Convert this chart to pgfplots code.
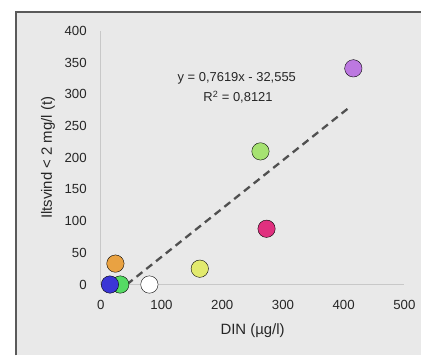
\documentclass[border=0pt]{standalone}
\usepackage{pgfplots}
\pgfplotsset{compat=1.18}
\usepackage{fontspec}
\setmainfont{Liberation Sans}
\definecolor{bgc}{HTML}{E9E9E9}
\definecolor{frame}{HTML}{5A5A5A}
\definecolor{axc}{HTML}{C8C8C8}
\definecolor{edge}{HTML}{404040}
\definecolor{cpurple}{HTML}{BC78E0}
\definecolor{clgreen}{HTML}{A6E272}
\definecolor{cpink}{HTML}{E0307F}
\definecolor{cyellow}{HTML}{E2EA6E}
\definecolor{corange}{HTML}{E9A242}
\definecolor{cgreen}{HTML}{55DB64}
\definecolor{cblue}{HTML}{3B36D6}
\definecolor{trend}{HTML}{505050}
\begin{document}
\begin{tikzpicture}[x=1bp,y=1bp]
\path[fill=white] (0,0) rectangle (422,356);
\fill[bgc] (16,0) rectangle (422,344);
\draw[frame, line width=1.4bp] (16,0) -- (16,344) -- (422,344);
\begin{axis}[
  at={(101bp,71bp)}, anchor=south west,
  scale only axis, width=304bp, height=254bp,
  xmin=0, xmax=500, ymin=0, ymax=400,
  clip=false,
  axis x line=bottom, axis y line=left,
  axis line style={draw=axc, line width=0.8bp, -},
  major tick length=0,
  xtick={0,100,...,500}, ytick={0,50,...,400},
  /pgf/number format/assume math mode=true,
  tick label style={font=\fontsize{13.3}{15}\selectfont, text=black!85},
  yticklabel style={anchor=east, inner sep=0pt, xshift=-14bp},
  xticklabel style={anchor=north, inner sep=0pt, yshift=-16bp},
  xlabel={DIN (µg/l)},
  ylabel={Iltsvind < 2 mg/l (t)},
  label style={font=\fontsize{15}{17}\selectfont, text=black!85},
  xlabel style={at={(axis description cs:0.5,-0.181)}, anchor=center},
  ylabel style={at={(axis description cs:-0.174,0.5)}, anchor=center},
  every axis plot/.append style={only marks, mark=*, mark size=8.7bp,
    mark options={draw=edge, line width=0.7bp}},
]
\addplot[trend, no marks, line width=2.3bp, dash pattern=on 7.5bp off 5bp, sharp plot, mark=none] coordinates {(42.7,0) (411,280.6)};
\addplot[mark options={fill=cgreen}] coordinates {(32,0)};
\addplot[mark options={fill=cblue}] coordinates {(15,0)};
\addplot[mark options={fill=corange}] coordinates {(24,33)};
\addplot[mark options={fill=white}] coordinates {(80,0)};
\addplot[mark options={fill=cyellow}] coordinates {(163,25)};
\addplot[mark options={fill=cpink}] coordinates {(273,88)};
\addplot[mark options={fill=clgreen}] coordinates {(263,210)};
\addplot[mark options={fill=cpurple}] coordinates {(416,341)};
\node[font=\fontsize{13}{15}\selectfont, text=black!85, align=center] at (axis cs:224,326) {y = 0,7619x - 32,555};
\node[font=\fontsize{13}{15}\selectfont, text=black!85] at (axis cs:226,296) {R\textsuperscript{2} = 0,8121};
\end{axis}
\end{tikzpicture}
\end{document}
